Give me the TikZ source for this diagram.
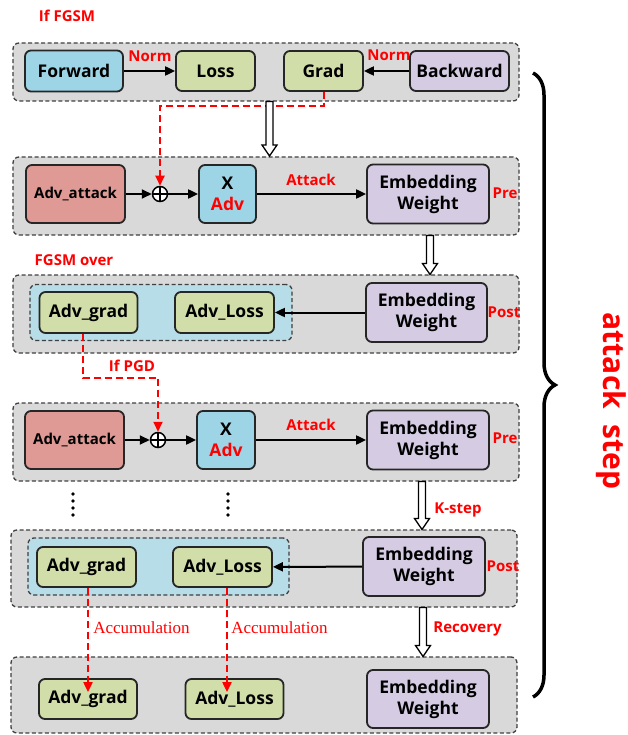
\documentclass[tikz,border=0pt]{standalone}
\usepackage{fontspec}
\setmainfont{Open Sans}
\newfontfamily\accfont{Liberation Serif}
\usetikzlibrary{arrows.meta,calc,decorations.pathreplacing}

\definecolor{panelgray}{HTML}{D9D9D9}
\definecolor{fwdblue}{HTML}{9DD5E6}
\definecolor{innerblue}{HTML}{B7DDE8}
\definecolor{gradgreen}{HTML}{D1DEA9}
\definecolor{embpurple}{HTML}{D5CCE3}
\definecolor{atkred}{HTML}{E09A95}

\tikzset{
  panel/.style={draw=black!75, line width=1.3pt, dash pattern=on 4pt off 2.5pt,
    fill=panelgray, rounded corners=6pt, inner sep=0},
  inner/.style={panel, fill=innerblue},
  box/.style={draw=black!85, line width=1.8pt, rounded corners=6pt, inner sep=0,
    align=center, font=\bfseries\fontsize{17.5}{21}\selectfont},
  smallbox/.style={box, fill=gradgreen, minimum width=98, minimum height=41},
  embbox/.style={box, fill=embpurple, minimum width=122, minimum height=59},
  atkbox/.style={box, fill=atkred, minimum width=99, minimum height=58,
    font=\bfseries\fontsize{15}{18}\selectfont},
  xbox/.style={box, fill=fwdblue, minimum width=57, minimum height=58},
  plus/.style={draw, circle, line width=1.5pt, minimum size=15, inner sep=0, fill=white,
    path picture={\draw[line width=1.5pt] (path picture bounding box.north) -- (path picture bounding box.south)
      (path picture bounding box.west) -- (path picture bounding box.east);}},
  lbl/.style={text=red, font=\bfseries\fontsize{15}{17}\selectfont},
  arr/.style={line width=2pt, ->},
  reddash/.style={draw=red, line width=2pt, dash pattern=on 7pt off 4pt},
}

\newcommand{\hollowdown}[2]{%
  \draw[line width=1.3pt, fill=white, line join=miter]
    ($(#1)+(-3.5,0)$) -- ($(#2)+(-3.5,-11)$) -- ($(#2)+(-7.5,-11)$) -- (#2)
    -- ($(#2)+(7.5,-11)$) -- ($(#2)+(3.5,-11)$) -- ($(#1)+(3.5,0)$) -- cycle;}

\begin{document}
\begin{tikzpicture}[x=1pt, y=-1pt, >={Triangle[length=10pt,width=9pt]}]
\useasboundingbox (0,0) rectangle (627,735);

% panels
\node[panel, minimum width=506, minimum height=58] (p1) at (266,72) {};
\node[panel, minimum width=506, minimum height=78] (p2) at (266,196) {};
\node[panel, minimum width=506, minimum height=78] (p3) at (266,314) {};
\node[panel, minimum width=506, minimum height=78] (p4) at (266,442) {};
\node[panel, minimum width=506, minimum height=77] (p5) at (264,568.5) {};
\node[panel, minimum width=506, minimum height=76] (p6) at (264,695) {};
\node[inner, minimum width=262, minimum height=56] (in3) at (161,312.5) {};
\node[inner, minimum width=261, minimum height=57] (in5) at (158.5,566.5) {};

% row 1: FGSM
\node[lbl] (iffgsm) at (67,16) {If FGSM};
\node[box, fill=fwdblue, minimum width=98, minimum height=41] (fwd) at (74,71) {Forward};
\node[smallbox, minimum width=79, minimum height=40] (loss) at (215.5,71) {Loss};
\node[smallbox, minimum width=79, minimum height=40] (grad) at (323.5,71) {Grad};
\node[box, fill=embpurple, minimum width=99, minimum height=40] (bwd) at (459.5,71) {Backward};
\draw[arr] (fwd) -- (loss);
\draw[arr] (bwd) -- (grad);
\node[lbl] (norm1) at (150,56) {Norm};
\node[lbl] (norm2) at (389,55) {Norm};

% row 2: attack (pre)
\node[atkbox] (atk1) at (75.5,194) {Adv\_attack};
\node[plus] (plus1) at (160,194) {};
\node[xbox] (x1) at (227.5,194) {X\\\textcolor{red}{Adv}};
\node[embbox] (emb1) at (428,194) {Embedding\\Weight};
\draw[arr] (atk1) -- (plus1);
\draw[arr] (plus1) -- (x1);
\draw[arr] (x1) -- (emb1);
\node[lbl] (attack1) at (311,180) {Attack};
\node[lbl] (pre1) at (505,193) {Pre};
\draw[reddash, ->] (grad.south) -- ++(0,14) -| (plus1.north);

% row 3: post
\node[lbl] (fgsmover) at (74,260) {FGSM over};
\node[smallbox] (grad3) at (88.5,312.5) {Adv\_grad};
\node[smallbox, minimum width=99] (loss3) at (224.5,312.5) {Adv\_Loss};
\node[embbox, minimum width=121] (emb3) at (426.5,312.5) {Embedding\\Weight};
\draw[arr] (emb3) -- (loss3);
\node[lbl] (post3) at (504,312) {Post};

% row 4: attack again
\node[atkbox] (atk2) at (74.5,440) {Adv\_attack};
\node[plus] (plus2) at (158,440) {};
\node[xbox, minimum width=58] (x2) at (226,440) {X\\\textcolor{red}{Adv}};
\node[embbox] (emb2) at (428,440) {Embedding\\Weight};
\draw[arr] (atk2) -- (plus2);
\draw[arr] (plus2) -- (x2);
\draw[arr] (x2) -- (emb2);
\node[lbl] (attack2) at (311,425) {Attack};
\node[lbl] (pre2) at (505,438) {Pre};
\draw[reddash, ->] ($(grad3.south)+(-6,0)$) -- ++(0,44) -| (plus2.north);
\node[lbl] (ifpgd) at (132,366) {If PGD};

% dots
\foreach \dx in {73,228}
  \foreach \dy in {494,501,508,515}
    \fill (\dx,\dy) circle (1.8);

% row 5: post
\node[smallbox, minimum width=99, minimum height=40] (grad5) at (86.5,567) {Adv\_grad};
\node[smallbox, minimum width=99, minimum height=40] (loss5) at (222.5,567) {Adv\_Loss};
\node[embbox] (emb5) at (424,566.5) {Embedding\\Weight};
\draw[arr] (emb5) -- (loss5);
\node[lbl] (post5) at (503,566) {Post};

% row 6: recovery
\node[smallbox, minimum height=40] (grad6) at (88,699) {Adv\_grad};
\node[smallbox, minimum height=40] (loss6) at (234.5,699) {Adv\_Loss};
\node[embbox, minimum height=58] (emb6) at (428,699) {Embedding\\Weight};
\draw[reddash, ->] ($(grad5.south)+(1.5,0)$) -- ($(grad5.south |- grad6.north)+(1.5,14)$);
\draw[reddash, ->] ($(loss5.south)+(4.5,0)$) -- ($(loss5.south |- loss6.north)+(4.5,14)$);
\node[text=red, font=\accfont\fontsize{17}{19}\selectfont] (acc1) at (141.5,628) {Accumulation};
\node[text=red, font=\accfont\fontsize{17}{19}\selectfont] (acc2) at (279.5,628) {Accumulation};

% hollow arrows between panels
\coordinate (h1a) at (269.5,101.5); \coordinate (h1b) at (269.5,156);
\coordinate (h2a) at (430,235.5);   \coordinate (h2b) at (430,274.5);
\coordinate (h4a) at (422,481.5);   \coordinate (h4b) at (422,529.5);
\coordinate (h5a) at (423,607.5);   \coordinate (h5b) at (423,656.5);
\hollowdown{h1a}{h1b}
\hollowdown{h2a}{h2b}
\hollowdown{h4a}{h4b}
\hollowdown{h5a}{h5b}
\node[lbl] (kstep) at (458,510) {K-step};
\node[lbl] (recovery) at (467.5,629) {Recovery};

% brace
\draw[line width=3.5pt, decorate, decoration={brace, amplitude=22pt}] (533,73) -- (533,697);
\node[text=red, rotate=-90, font=\bfseries\fontsize{30}{32}\selectfont] (atkstep) at (611,401) {attack\ \ step};
\end{tikzpicture}
\end{document}
